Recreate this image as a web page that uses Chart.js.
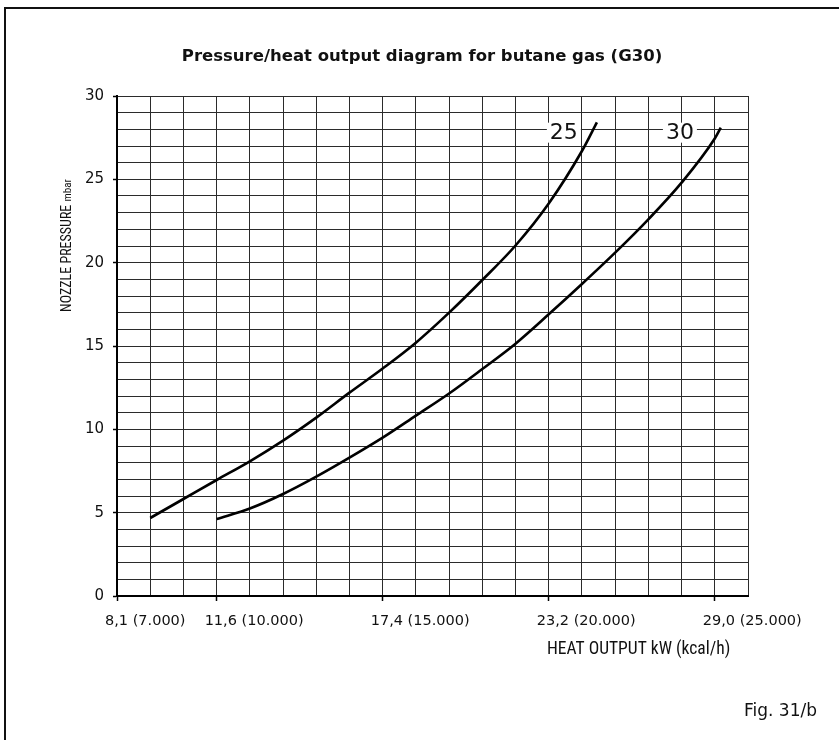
<!DOCTYPE html>
<html><head><meta charset="utf-8">
<script src="https://cdn.jsdelivr.net/npm/chart.js@4/dist/chart.umd.min.js"></script>
<style>
html,body{margin:0;padding:0;background:#fff;overflow:hidden;}
#wrap{position:relative;width:839px;height:740px;overflow:hidden;}
#frame{position:absolute;left:4px;top:7px;width:900px;height:900px;border-top:2px solid #111;border-left:2px solid #111;}
canvas{position:absolute;left:0;top:0;}
</style></head><body>
<div id="wrap"><div id="frame"></div><canvas id="c" width="839" height="740"></canvas></div>
<script>
// ---- data (heat output in kcal/h, nozzle pressure in mbar) ----
const kcal25 = [8000, 9000, 10000, 11000, 12000, 13000, 14000, 15000, 16000, 17000, 18000, 19000, 20000, 21000, 21450];
const p25    = [4.68, 5.82, 6.96, 8.08, 9.32, 10.7, 12.2, 13.65, 15.2, 17.0, 18.96, 21.03, 23.55, 26.7, 28.42];
const kcal30 = [10000, 11000, 12000, 13000, 14000, 15000, 16000, 17000, 18000, 19000, 20000, 21000, 22000, 23000, 24000, 25000, 25180];
const p30    = [4.62, 5.25, 6.12, 7.16, 8.3, 9.5, 10.82, 12.15, 13.62, 15.14, 16.9, 18.72, 20.6, 22.6, 24.8, 27.45, 28.1];
const seriesNames = ['25', '30'];
const xLabelValues = [7000, 10000, 15000, 20000, 25000];
const xLabelTexts  = ['8,1 (7.000)', '11,6 (10.000)', '17,4 (15.000)', '23,2 (20.000)', '29,0 (25.000)'];
const yLabelValues = [0, 5, 10, 15, 20, 25, 30];

const FONT = '"DejaVu Sans", sans-serif';
const FONT_C = '"Roboto Condensed", "DejaVu Sans Condensed", sans-serif';

const extraText = {
  id: 'extraText',
  afterDatasetsDraw(chart) {
    const ctx = chart.ctx, xs = chart.scales.x, ys = chart.scales.y;
    ctx.save();
    // curve labels with white knock-out box
    const labelPos = [[20455, 27.8], [23950, 27.8]];
    ctx.font = '22px ' + FONT;
    ctx.textAlign = 'center';
    ctx.textBaseline = 'middle';
    seriesNames.forEach((t, i) => {
      const px = xs.getPixelForValue(labelPos[i][0]);
      const py = ys.getPixelForValue(labelPos[i][1]);
      const w = ctx.measureText(t).width;
      ctx.fillStyle = '#fff';
      ctx.fillRect(px - w / 2 - 3, py - 10, w + 6, 20);
      ctx.fillStyle = '#111';
      ctx.fillText(t, px, py + 1);
    });
    ctx.restore();
  },
  afterDraw(chart) {
    const ctx = chart.ctx, a = chart.chartArea;
    ctx.save();
    ctx.fillStyle = '#111';
    ctx.textBaseline = 'alphabetic';
    // y-axis title
    ctx.translate(a.left - 46, a.top + 216);
    ctx.rotate(-Math.PI / 2);
    ctx.textAlign = 'left';
    ctx.font = '14px ' + FONT_C;
    const t1 = 'NOZZLE PRESSURE ';
    ctx.fillText(t1, 0, 0);
    const w1 = ctx.measureText(t1).width;
    ctx.font = '11px ' + FONT_C;
    ctx.fillText('mbar', w1, 0);
    ctx.setTransform(1, 0, 0, 1, 0, 0);
    // x-axis title
    ctx.font = '17.5px ' + FONT_C;
    ctx.textAlign = 'left';
    ctx.fillText('HEAT OUTPUT kW (kcal/h)', 547, 654);
    // figure label
    ctx.textAlign = 'right';
    ctx.font = '17px ' + FONT;
    ctx.fillText('Fig. 31/b', 817, 716);
    ctx.restore();
  }
};

const majorX = v => xLabelValues.includes(v);
const majorY = v => yLabelValues.includes(v);

new Chart(document.getElementById('c'), {
  type: 'line',
  data: {
    datasets: [
      { label: seriesNames[0], data: kcal25.map((x, i) => ({ x, y: p25[i] })) },
      { label: seriesNames[1], data: kcal30.map((x, i) => ({ x, y: p30[i] })) }
    ]
  },
  options: {
    responsive: false,
    animation: false,
    devicePixelRatio: 1,
    layout: { padding: { left: 5, right: 0, top: 0, bottom: 0 } },
    elements: {
      line: { borderColor: '#000', borderWidth: 2.6, cubicInterpolationMode: 'monotone', fill: false, borderCapStyle: 'butt' },
      point: { radius: 0, hoverRadius: 0 }
    },
    plugins: {
      legend: { display: false },
      tooltip: { enabled: false },
      title: {
        display: true,
        text: 'Pressure/heat output diagram for butane gas (G30)',
        color: '#111',
        font: { family: FONT, size: 16.5, weight: 'bold', lineHeight: 1.2 },
        padding: { top: 47, bottom: 29.2 }
      }
    },
    scales: {
      x: {
        type: 'linear',
        min: 7000, max: 26000,
        afterFit: s => { s.height = 144; },
        border: { display: true, color: '#000', width: 2 },
        grid: {
          color: '#2b2b2b', lineWidth: 1, drawTicks: true, tickLength: 5,
          tickColor: c => majorX(c.tick && c.tick.value) ? '#000' : 'rgba(0,0,0,0)',
          tickWidth: 1.5
        },
        ticks: {
          stepSize: 1000, autoSkip: false, maxRotation: 0, minRotation: 0,
          align: 'start', labelOffset: -12, padding: 12,
          color: '#111', font: { family: FONT, size: 14.5 },
          callback: v => { const i = xLabelValues.indexOf(v); return i >= 0 ? xLabelTexts[i] : ''; }
        }
      },
      y: {
        type: 'linear',
        min: 0, max: 30,
        afterFit: s => { s.width = 112; },
        border: { display: true, color: '#000', width: 2 },
        grid: {
          color: '#2b2b2b', lineWidth: 1, drawTicks: true, tickLength: 4,
          tickColor: c => majorY(c.tick && c.tick.value) ? '#000' : 'rgba(0,0,0,0)',
          tickWidth: 1.5
        },
        ticks: {
          stepSize: 1, autoSkip: false, padding: 9,
          color: '#111', font: { family: FONT, size: 15 },
          callback: v => majorY(v) ? String(v) : ''
        }
      },
      yR: {
        type: 'linear',
        position: 'right',
        min: 0, max: 30,
        afterFit: s => { s.width = 91; },
        grid: { display: false, drawTicks: false },
        border: { display: false },
        ticks: { display: false }
      }
    }
  },
  plugins: [extraText]
});
</script>
</body></html>
